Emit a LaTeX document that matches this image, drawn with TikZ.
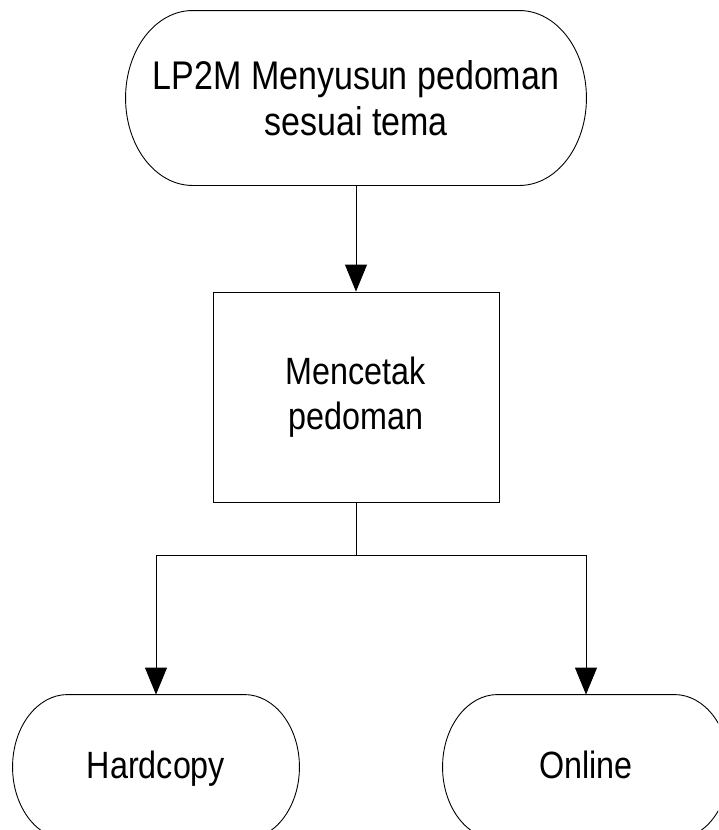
\documentclass[tikz,border=0pt]{standalone}
\usepackage{fontspec}
\setmainfont[FakeStretch=0.85]{Liberation Sans}
\usetikzlibrary{arrows.meta}

% outline of a terminal node: #1 name, #2 end width
\newcommand{\termline}[2]{%
	\draw ([xshift=#2]#1.north west) -- ([xshift=-#2]#1.north east)
		let \p1 = (#1.north), \p2 = (#1.south), \n1 = {0.5*(\y1-\y2)} in
		arc [start angle=90, end angle=-90, x radius=#2, y radius=\n1]
		-- ([xshift=#2]#1.south west)
		arc [start angle=270, end angle=90, x radius=#2, y radius=\n1] -- cycle;}

\usetikzlibrary{calc}

\begin{document}
\begin{tikzpicture} [x = 1pt, y = -1pt, line width = 0.9pt,
	txt/.style = {align = center, inner sep = 0pt, font = \fontsize{38}{45}\selectfont},
	term/.style = {txt, minimum width = 286pt, minimum height = 144pt, text height = 30pt, text depth = 8pt},
	box/.style = {txt, draw, minimum width = 286pt, minimum height = 210pt},
	arr/.style = {-{Triangle[width = 22pt, length = 27pt]}}]
	\useasboundingbox (0,0) rectangle (718,830);
	\clip (0,0) rectangle (718,830);
	\node [txt, minimum width = 460pt, minimum height = 174pt, font = \fontsize{40}{46}\selectfont] (susun) at (356,98) {LP2M Menyusun pedoman\\sesuai tema};
	\node [box] (cetak) at (356,397) {Mencetak\\pedoman};
	\node [term] (hardcopy) at (156,767) {Hardcopy};
	\node [term] (online) at (586,767) {Online};
	\coordinate (cabang) at (356,555);
	\termline{susun}{67pt}
	\termline{hardcopy}{55pt}
	\termline{online}{55pt}
	%\draw (cetak.south) -- (cabang);
	\draw [arr] (susun) -- (cetak);
	\draw (cetak) -- (cabang);
	\draw [arr] (cabang) -| (hardcopy);
	\draw [arr] (cabang) -| (online);
\end{tikzpicture}
\end{document}
